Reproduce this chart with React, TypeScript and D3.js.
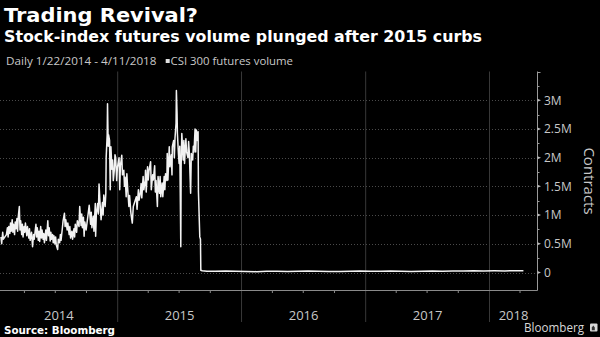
import React from 'react';
import * as d3 from 'd3';

// ---------- DATA ----------
const titleText = 'Trading Revival?';
const subtitleText = 'Stock-index futures volume plunged after 2015 curbs';
const periodText = 'Daily 1/22/2014 - 4/11/2018';
const seriesName = 'CSI 300 futures volume';
const yAxisTitle = 'Contracts';
const sourceText = 'Source: Bloomberg';
const brandText = 'Bloomberg';

const yTickValues = [0, 0.5, 1, 1.5, 2, 2.5, 3];
const yTickLabels = ['0', '0.5M', '1M', '1.5M', '2M', '2.5M', '3M'];
const yearLabels = ['2014', '2015', '2016', '2017', '2018'];

// CSI 300 futures volume, millions of contracts
const dates = [
  '2014-01-22','2014-01-24','2014-01-27','2014-01-29','2014-02-07','2014-02-10','2014-02-12','2014-02-14','2014-02-17','2014-02-19',
  '2014-02-21','2014-02-24','2014-02-26','2014-02-28','2014-03-03','2014-03-05','2014-03-07','2014-03-10','2014-03-12','2014-03-14',
  '2014-03-17','2014-03-19','2014-03-21','2014-03-24','2014-03-26','2014-03-28','2014-03-31','2014-04-02','2014-04-04','2014-04-08',
  '2014-04-10','2014-04-14','2014-04-16','2014-04-18','2014-04-22','2014-04-25','2014-04-28','2014-04-30','2014-05-05','2014-05-07',
  '2014-05-09','2014-05-12','2014-05-14','2014-05-16','2014-05-19','2014-05-21','2014-05-23','2014-05-26','2014-05-28','2014-05-30',
  '2014-06-03','2014-06-05','2014-06-09','2014-06-11','2014-06-13','2014-06-16','2014-06-18','2014-06-20','2014-06-23','2014-06-25',
  '2014-06-27','2014-06-30','2014-07-02','2014-07-04','2014-07-08','2014-07-10','2014-07-14','2014-07-16','2014-07-18','2014-07-22',
  '2014-07-24','2014-07-28','2014-07-30','2014-08-01','2014-08-05','2014-08-07','2014-08-11','2014-08-13','2014-08-15','2014-08-19',
  '2014-08-21','2014-08-25','2014-08-27','2014-08-29','2014-09-02','2014-09-04','2014-09-09','2014-09-11','2014-09-15','2014-09-17',
  '2014-09-19','2014-09-22','2014-09-24','2014-09-26','2014-09-30','2014-10-09','2014-10-13','2014-10-15','2014-10-17','2014-10-21',
  '2014-10-23','2014-10-27','2014-10-28','2014-10-30','2014-11-03','2014-11-05','2014-11-07','2014-11-11','2014-11-13','2014-11-17',
  '2014-11-19','2014-11-21','2014-11-25','2014-11-27','2014-11-28','2014-12-01','2014-12-02','2014-12-04','2014-12-05','2014-12-08',
  '2014-12-10','2014-12-12','2014-12-15','2014-12-17','2014-12-19','2014-12-22','2014-12-24','2014-12-26','2014-12-29','2014-12-31',
  '2015-01-05','2015-01-07','2015-01-09','2015-01-13','2015-01-15','2015-01-19','2015-01-21','2015-01-23','2015-01-26','2015-01-28',
  '2015-01-30','2015-02-03','2015-02-05','2015-02-09','2015-02-13','2015-02-16','2015-02-25','2015-02-27','2015-03-03','2015-03-05',
  '2015-03-09','2015-03-11','2015-03-13','2015-03-17','2015-03-19','2015-03-23','2015-03-24','2015-03-26','2015-03-30','2015-04-01',
  '2015-04-03','2015-04-08','2015-04-10','2015-04-14','2015-04-16','2015-04-20','2015-04-22','2015-04-24','2015-04-28','2015-04-30',
  '2015-05-04','2015-05-06','2015-05-08','2015-05-12','2015-05-14','2015-05-18','2015-05-20','2015-05-22','2015-05-26','2015-05-27',
  '2015-05-29','2015-06-02','2015-06-04','2015-06-08','2015-06-10','2015-06-11','2015-06-15','2015-06-17','2015-06-19','2015-06-22',
  '2015-06-23','2015-06-25','2015-06-26','2015-06-29','2015-07-01','2015-07-03','2015-07-06','2015-07-07','2015-07-09','2015-07-13',
  '2015-07-15','2015-07-17','2015-07-21','2015-07-23','2015-07-27','2015-07-29','2015-07-31','2015-08-04','2015-08-06','2015-08-10',
  '2015-08-12','2015-08-14','2015-08-17','2015-08-19','2015-08-21','2015-08-24','2015-08-26','2015-08-27','2015-08-31','2015-09-02',
  '2015-09-03','2015-09-07','2015-09-21','2015-10-15','2015-11-16','2015-12-15','2016-01-15','2016-02-15','2016-03-15','2016-04-15',
  '2016-05-16','2016-06-15','2016-07-15','2016-08-15','2016-09-15','2016-10-17','2016-11-15','2016-12-15','2017-01-16','2017-02-15',
  '2017-03-15','2017-04-17','2017-05-15','2017-06-15','2017-07-17','2017-08-15','2017-09-15','2017-10-16','2017-11-15','2017-12-15',
  '2018-01-15','2018-02-15','2018-03-15','2018-04-11'
];

const volumes = [
  0.62,0.50,0.70,0.58,0.66,0.78,0.62,0.80,0.68,0.86,
  0.72,0.92,0.70,0.84,0.66,0.88,0.76,0.94,0.72,0.98,
  1.15,0.74,0.90,0.66,0.84,0.62,0.80,0.70,0.86,0.64,
  0.80,0.60,0.76,0.56,0.70,0.45,0.66,0.58,0.84,0.62,
  0.78,0.56,0.72,0.54,0.80,0.60,0.74,0.58,0.68,0.52,
  0.74,0.56,0.90,0.64,0.78,0.55,0.70,0.58,0.66,0.52,
  0.64,0.50,0.62,0.48,0.40,0.58,0.52,0.66,0.56,0.78,
  0.90,1.03,0.80,0.92,0.74,0.86,0.66,0.80,0.60,0.72,
  0.58,0.76,0.62,0.84,0.70,0.90,0.80,1.15,0.82,1.02,
  0.78,0.96,0.63,0.88,0.74,1.17,0.84,1.05,0.78,0.98,
  0.72,1.20,0.63,1.02,1.20,1.02,1.54,1.10,0.92,1.22,
  1.00,1.35,1.15,1.38,2.00,2.40,2.94,2.20,2.40,2.30,
  1.44,2.19,1.80,1.96,1.60,1.78,2.05,2.00,1.60,1.82,
  2.00,1.44,1.86,2.04,1.70,1.78,1.50,1.66,1.32,1.72,
  1.50,1.15,1.34,1.03,0.86,1.15,1.32,1.10,1.44,1.26,
  1.40,1.55,1.30,1.67,1.44,1.60,1.78,1.40,1.84,1.61,
  1.76,1.93,1.44,1.70,1.61,1.86,1.40,1.60,1.15,1.67,
  1.38,1.67,1.32,1.56,1.32,1.67,1.44,1.72,1.60,2.07,
  1.61,2.19,1.84,2.05,1.70,2.19,2.30,2.00,2.35,2.60,
  3.17,2.77,2.42,2.07,1.90,2.20,0.45,1.84,2.42,1.96,
  2.30,1.90,2.33,2.10,2.00,2.28,2.10,1.38,2.07,1.96,
  2.20,2.10,2.50,2.10,2.48,2.30,2.45,1.40,0.62,0.58,
  0.04,0.03,0.02,0.02,0.025,0.022,0.018,0.015,0.02,0.022,
  0.018,0.02,0.024,0.02,0.018,0.016,0.022,0.025,0.02,0.022,
  0.024,0.02,0.018,0.022,0.024,0.022,0.026,0.025,0.03,0.028,
  0.03,0.028,0.032,0.03
];

// ---------- CHART ----------
const W = 600;
const H = 337;
const parse = d3.timeParse('%Y-%m-%d');
const series = dates.map((d, i) => ({ date: parse(d) as Date, v: volumes[i] }));

const plotLeft = 0;
const axisX = 537.5;
const plotTop = 71.5;
const bottomAxisY = 290.5;

const x = d3.scaleTime()
  .domain([new Date(2015, 0, 1), new Date(2018, 0, 1)])
  .range([117.7, 489.5]);
const y = d3.scaleLinear().domain([0, 3.5]).range([272.5, plotTop]);

const line = d3.line<{ date: Date; v: number }>()
  .x(d => x(d.date))
  .y(d => y(d.v));

const yearBounds = d3.timeYear.range(new Date(2014, 0, 1), new Date(2020, 0, 1)); // 2014..2019
const yearLines = yearBounds.slice(1, 5).map(d => x(d));
const quarterTicks = d3.timeMonth.every(3)!
  .range(new Date(2014, 0, 1), new Date(2018, 6, 1))
  .filter(d => d.getMonth() !== 0)
  .map(d => x(d))
  .filter(px => px > plotLeft && px < axisX);
const minorY = d3.range(0.25, 3.5, 0.5);

const labelFont = "'Open Sans', 'DejaVu Sans', sans-serif";
const boldFont = "'DejaVu Sans', 'Open Sans', sans-serif";

export default function App() {
  const yearLabelPos = yearLabels.map((lab, i) => {
    const a = Math.max(plotLeft, x(yearBounds[i]));
    const b = Math.min(axisX, x(yearBounds[i + 1]));
    return { lab, cx: (a + b) / 2 };
  });

  return (
    <svg width={W} height={H} style={{ position: 'absolute', left: 0, top: 0, display: 'block' }}>
      <rect x={0} y={0} width={W} height={H} fill="#000" />

      {/* Titles */}
      <text x={4} y={21.7} fill="#fff" fontFamily={boldFont} fontWeight="bold" fontSize={20}
        textLength={194} lengthAdjust="spacingAndGlyphs">{titleText}</text>
      <text x={4} y={41.7} fill="#fff" fontFamily={boldFont} fontWeight="bold" fontSize={15}
        textLength={478} lengthAdjust="spacingAndGlyphs">{subtitleText}</text>

      {/* Legend */}
      <text x={6} y={65.3} fill="#c8c8c8" fontFamily={labelFont} fontSize={11}
        textLength={150.5} lengthAdjust="spacingAndGlyphs">{periodText}</text>
      <rect x={165.7} y={59} width={4} height={4} fill="#e0e0e0" />
      <text x={170.5} y={65.3} fill="#c8c8c8" fontFamily={labelFont} fontSize={11}
        textLength={122.5} lengthAdjust="spacingAndGlyphs">{seriesName}</text>

      {/* Horizontal gridlines */}
      {yTickValues.map(v => (
        <line key={'g' + v} x1={plotLeft} x2={axisX} y1={Math.round(y(v)) + 0.5} y2={Math.round(y(v)) + 0.5}
          stroke="#4a4a4a" strokeWidth={1} strokeDasharray="1,2" />
      ))}

      {/* Year dividers */}
      {yearLines.map((px, i) => (
        <line key={'yl' + i} x1={px} x2={px} y1={plotTop} y2={322} stroke="#383838" strokeWidth={1} />
      ))}

      {/* Data line */}
      <path d={line(series) || ''} fill="none" stroke="#f2f2f2" strokeWidth={1.5} strokeLinejoin="round" />

      {/* Bottom axis */}
      <line x1={plotLeft} x2={axisX} y1={bottomAxisY} y2={bottomAxisY} stroke="#8a8a8a" strokeWidth={1} />
      {quarterTicks.map((px, i) => (
        <line key={'q' + i} x1={px} x2={px} y1={bottomAxisY} y2={bottomAxisY + 2.5} stroke="#8a8a8a" strokeWidth={1} />
      ))}
      {yearLabelPos.map(({ lab, cx }) => (
        <text key={lab} x={cx} y={320} textAnchor="middle" fill="#c8c8c8" fontFamily={labelFont} fontSize={13}>{lab}</text>
      ))}

      {/* Right axis */}
      <line x1={axisX} x2={axisX} y1={plotTop} y2={bottomAxisY} stroke="#9a9a9a" strokeWidth={1} />
      <line x1={axisX} x2={axisX + 3} y1={Math.round(y(3.5)) + 0.5} y2={Math.round(y(3.5)) + 0.5} stroke="#9a9a9a" />
      {minorY.map(v => (
        <line key={'m' + v} x1={axisX} x2={axisX + 2} y1={Math.round(y(v)) + 0.5} y2={Math.round(y(v)) + 0.5} stroke="#9a9a9a" />
      ))}
      {yTickValues.map((v, i) => (
        <g key={'t' + v}>
          <path d={`M${axisX},${y(v) - 1.5}L${axisX + 3.5},${y(v)}L${axisX},${y(v) + 1.5}Z`} fill="#bbb" />
          <text x={544} y={y(v) + 4.3} fill="#c8c8c8" fontFamily={labelFont} fontSize={12}>{yTickLabels[i]}</text>
        </g>
      ))}
      <text transform={`translate(584,181) rotate(90)`} textAnchor="middle" fill="#c8c8c8"
        fontFamily={labelFont} fontSize={15}>{yAxisTitle}</text>

      {/* Footer */}
      <text x={4} y={334.3} fill="#fff" fontFamily={boldFont} fontWeight="bold" fontSize={10.5}
        textLength={111} lengthAdjust="spacingAndGlyphs">{sourceText}</text>
      <text x={524} y={331.7} fill="#d8d8d8" fontFamily={labelFont} fontSize={12}
        textLength={60} lengthAdjust="spacingAndGlyphs">{brandText}</text>
      <rect x={590} y={323.5} width={7.5} height={8} rx={1} fill="#d8d8d8" />
      <path d="M591.8,330.2 L591.8,327.5 L593.3,325.6 L594.8,327.5 L594.8,330.2 Z" fill="#333" />
    </svg>
  );
}
